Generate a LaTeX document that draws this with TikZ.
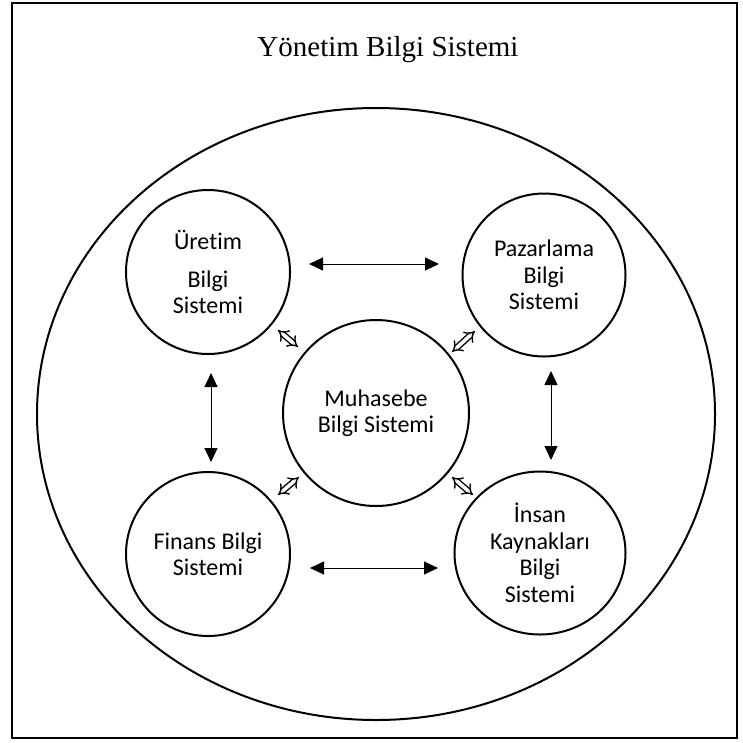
\documentclass[tikz,border=0pt]{standalone}
\usepackage{fontspec}
\setmainfont{Liberation Serif}
\newfontfamily\calib[Ligatures={NoCommon}]{Carlito}
\usetikzlibrary{arrows.meta,shapes.geometric}
\tikzset{
  sysbox/.style={draw, line width=2pt, circle, inner sep=0pt, align=center,
    font=\calib\fontsize{24}{26.5}\selectfont},
  plainarrow/.style={line width=1pt, {Triangle[length=14pt,width=13pt]}-{Triangle[length=14pt,width=13pt]}},
  dblarrow/.style={double, double distance=3.6pt, line width=1.4pt, {Implies}-{Implies}},
}
\begin{document}
\begin{tikzpicture}[x=1pt,y=-1pt]
\useasboundingbox (0,0) rectangle (743,742);
\fill[white] (0,0) rectangle (743,742);
\draw[line width=2pt] (12,3) rectangle (737,738);
\node[font=\fontsize{29}{34}\selectfont, anchor=base] (title) at (388,56) {Yönetim Bilgi Sistemi};
\node[draw, line width=2pt, ellipse, minimum width=678pt, minimum height=612pt, inner sep=0pt] (mbs) at (376,414) {};
\node[sysbox, minimum size=164pt] (ure) at (208,272) {Üretim\\[11pt]Bilgi\\Sistemi};
\node[sysbox, minimum size=163pt] (paz) at (544,275) {Pazarlama\\Bilgi\\Sistemi};
\node[sysbox, minimum size=186pt] (muh) at (376,413) {Muhasebe\\Bilgi Sistemi};
\node[sysbox, minimum size=164pt] (fin) at (208,554) {Finans Bilgi\\Sistemi};
\node[sysbox, ellipse, minimum width=171pt, minimum height=163pt] (ins) at (540,553) {İnsan\\Kaynakları\\Bilgi\\Sistemi};
% arrow end points
\coordinate (h1a) at (309,264); \coordinate (h1b) at (439,264);
\coordinate (h2a) at (310,568); \coordinate (h2b) at (438,568);
\coordinate (v1a) at (211,373); \coordinate (v1b) at (211,462);
\coordinate (v2a) at (551,371); \coordinate (v2b) at (551,460);
\coordinate (d1a) at (278,330); \coordinate (d1b) at (298,347);
\coordinate (d2a) at (452,352); \coordinate (d2b) at (475,331);
\coordinate (d3a) at (278,495); \coordinate (d3b) at (299,477);
\coordinate (d4a) at (452,477); \coordinate (d4b) at (473,495);
\draw[plainarrow] (h1a) -- (h1b);
\draw[plainarrow] (h2a) -- (h2b);
\draw[plainarrow] (v1a) -- (v1b);
\draw[plainarrow] (v2a) -- (v2b);
\draw[dblarrow] (d1a) -- (d1b);
\draw[dblarrow] (d2a) -- (d2b);
\draw[dblarrow] (d3a) -- (d3b);
\draw[dblarrow] (d4a) -- (d4b);
\end{tikzpicture}
\end{document}
